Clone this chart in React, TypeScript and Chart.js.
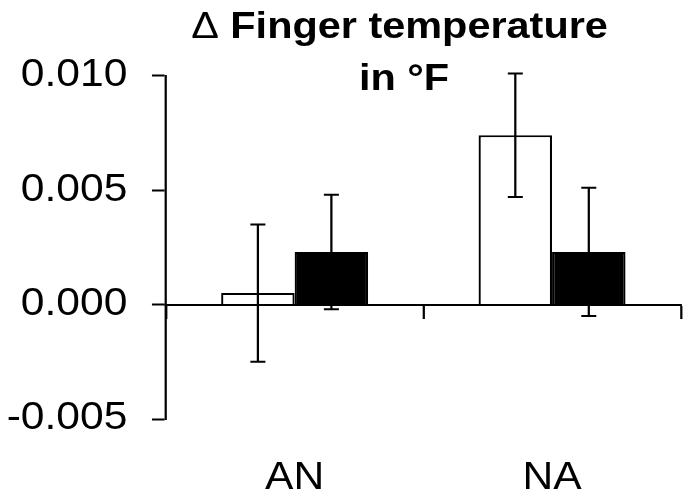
import React, { useEffect, useRef } from 'react';
import { Chart, registerables } from 'chart.js';

Chart.register(...registerables);

const categories = ['AN', 'NA'];
const openValues = [0.0005, 0.0074];
const openErrors = [0.003, 0.0027];
const filledValues = [0.0023, 0.0023];
const filledErrors = [0.0025, 0.0028];
const yTicks = [-0.005, 0, 0.005, 0.01];
const yTickLabels = ['-0.005', '0.000', '0.005', '0.010'];
const titleDelta = 'Δ';
const titleLine1 = ' Finger temperature';
const titleLine2 = 'in °F';

const FONT = '"Liberation Sans", Arial, sans-serif';
const STRETCH = 683 / 610;

const errorBarPlugin = {
  id: 'errorBars',
  afterDatasetsDraw(chart: any) {
    const ctx = chart.ctx;
    const yScale = chart.scales.y;
    const errs = [openErrors, filledErrors];
    ctx.save();
    ctx.strokeStyle = '#000';
    ctx.lineWidth = 2;
    chart.data.datasets.forEach((ds: any, di: number) => {
      const meta = chart.getDatasetMeta(di);
      meta.data.forEach((bar: any, i: number) => {
        const v = ds.data[i];
        const e = errs[di][i];
        const x = bar.x;
        const yTop = yScale.getPixelForValue(v + e);
        const yBot = yScale.getPixelForValue(v - e);
        const cap = 6.7;
        ctx.beginPath();
        ctx.moveTo(x, yTop);
        ctx.lineTo(x, yBot);
        ctx.moveTo(x - cap, yTop);
        ctx.lineTo(x + cap, yTop);
        ctx.moveTo(x - cap, yBot);
        ctx.lineTo(x + cap, yBot);
        ctx.stroke();
      });
    });
    ctx.restore();
  },
};

// Draws the whole chart with a slight horizontal stretch (like the reference), then the title.
const stretchAndTitlePlugin = {
  id: 'stretchAndTitle',
  beforeDraw(chart: any) {
    chart.ctx.setTransform(STRETCH, 0, 0, 1, 0, 0);
  },
  afterDraw(chart: any) {
    const ctx = chart.ctx;
    ctx.save();
    ctx.fillStyle = '#000';
    ctx.textBaseline = 'alphabetic';
    ctx.textAlign = 'left';
    const size = 37;
    ctx.font = `${size}px ${FONT}`;
    const wd = ctx.measureText(titleDelta).width;
    ctx.font = `bold ${size}px ${FONT}`;
    const w1 = ctx.measureText(titleLine1).width;
    const start = 356.8 - (wd + w1) / 2;
    ctx.font = `${size}px ${FONT}`;
    ctx.fillText(titleDelta, start, 38);
    ctx.font = `bold ${size}px ${FONT}`;
    ctx.fillText(titleLine1, start + wd, 38);
    ctx.textAlign = 'center';
    ctx.fillText(titleLine2, 360.8, 89.5);
    ctx.restore();
    ctx.setTransform(1, 0, 0, 1, 0, 0);
  },
};

export default function App() {
  const canvasRef = useRef<HTMLCanvasElement | null>(null);

  useEffect(() => {
    if (!canvasRef.current) return;
    const chart = new Chart(canvasRef.current, {
      type: 'bar',
      data: {
        labels: categories,
        datasets: [
          {
            label: 'open',
            data: openValues,
            backgroundColor: '#ffffff',
            borderColor: '#000000',
            borderWidth: 2,
            barPercentage: 1,
            categoryPercentage: 0.571,
          },
          {
            label: 'filled',
            data: filledValues,
            backgroundColor: '#000000',
            borderColor: '#000000',
            borderWidth: 2,
            barPercentage: 1,
            categoryPercentage: 0.571,
          },
        ],
      },
      options: {
        animation: false,
        responsive: false,
        maintainAspectRatio: false,
        devicePixelRatio: 1,
        layout: { padding: { top: 75.7, bottom: 83, left: 0, right: 75 } },
        plugins: {
          legend: { display: false },
          title: { display: false },
          tooltip: { enabled: false },
        },
        scales: {
          x: {
            type: 'category',
            position: { y: 0 } as any,
            offset: true,
            grid: {
              display: true,
              offset: true,
              drawOnChartArea: false,
              drawTicks: true,
              tickLength: 13,
              tickColor: '#000',
              tickWidth: 2,
              color: '#000',
            },
            border: { display: true, color: '#000', width: 2 },
            ticks: {
              color: '#000',
              padding: 138,
              font: { family: FONT, size: 38 },
              maxRotation: 0,
            },
          },
          y: {
            type: 'linear',
            min: -0.005,
            max: 0.01,
            afterBuildTicks: (s: any) => {
              s.ticks = yTicks.map((v) => ({ value: v }));
            },
            afterFit: (s: any) => {
              s.width = 148.2;
            },
            grid: {
              display: true,
              drawOnChartArea: false,
              drawTicks: true,
              tickLength: 12.5,
              tickColor: '#000',
              tickWidth: 2,
              color: '#000',
            },
            border: { display: true, color: '#000', width: 2 },
            ticks: {
              color: '#000',
              padding: 22,
              font: { family: FONT, size: 38 },
              callback: (value: any) => {
                const idx = yTicks.findIndex((t) => Math.abs(t - Number(value)) < 1e-9);
                return idx >= 0 ? yTickLabels[idx] : '';
              },
            },
          },
        },
      },
      plugins: [errorBarPlugin, stretchAndTitlePlugin],
    });
    return () => chart.destroy();
  }, []);

  return (
    <div style={{ position: 'absolute', left: 0, top: 0, width: 683, height: 502, background: '#fff' }}>
      <canvas ref={canvasRef} width={683} height={502} style={{ width: 683, height: 502, display: 'block' }} />
    </div>
  );
}
